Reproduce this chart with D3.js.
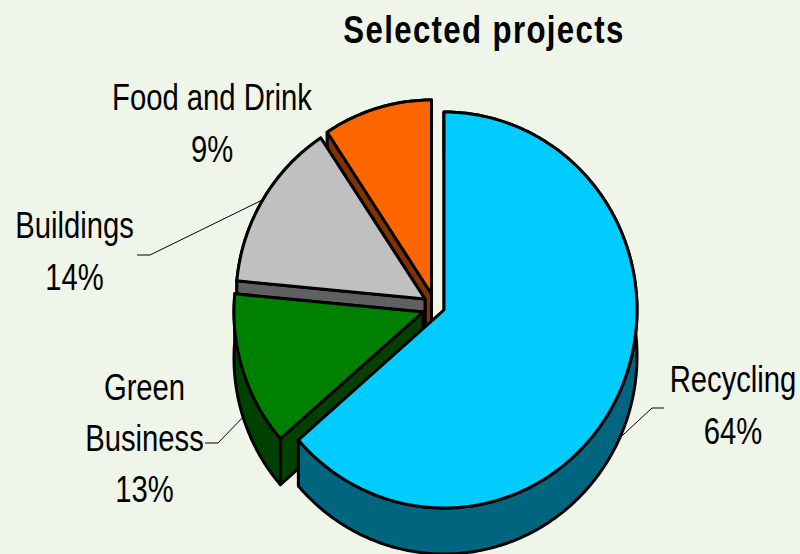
<!DOCTYPE html>
<html>
<head>
<meta charset="utf-8">
<script src="https://cdn.jsdelivr.net/npm/d3@7"></script>
<style>
  html, body { margin: 0; padding: 0; background: #f0f5ea; }
  svg { display: block; }
  text { font-family: "Liberation Sans", Arial, sans-serif; fill: #000; }
</style>
</head>
<body>
<script>
const categories = ["Recycling", "Green Business", "Buildings", "Food and Drink"];
// the printed labels round these
const shares = [63.6, 12.9, 14.2, 9.3];
const topColors = ["#00ccff", "#008000", "#c0c0c0", "#ff6600"];
const wallColors = ["#006680", "#004000", "#606060", "#803300"];

const width = 800;
const height = 554;
const depth = 46;

// every slice is pulled out of the pie a bit, so each gets its own centre
const centers = [[444, 310], [423, 312], [425, 299], [431.5, 294]];
// the blue one is drawn a little larger than the rest
const radii = [[193, 198], [189, 193], [189, 193], [189, 194]];

// label lines, x is the middle of the block, squeezed text like the original
const labelLines = [
  { slice: 0, lines: ["Recycling", "64%"], x: 733, y: 392, dy: 52 },
  { slice: 1, lines: ["Green", "Business", "13%"], x: 144.5, y: 400, dy: 51 },
  { slice: 2, lines: ["Buildings", "14%"], x: 74.5, y: 238, dy: 52 },
  { slice: 3, lines: ["Food and Drink", "9%"], x: 212, y: 110, dy: 52 }
];
// elbow of the leader lines, they start on the slice itself
const leaders = [
  { slice: 0, elbow: [652, 408], end: [664, 408], wall: true },
  { slice: 1, elbow: [218, 443], end: [205, 443], wall: true },
  { slice: 2, elbow: [150, 255], end: [137, 255], wall: false }
];

// unit circle to pixels for each slice
const xScales = radii.map(r => d3.scaleLinear().domain([-1, 1]).range([-r[0], r[0]]));
const yScales = radii.map(r => d3.scaleLinear().domain([-1, 1]).range([-r[1], r[1]]));

const svg = d3.select("body")
  .append("svg")
  .attr("width", width)
  .attr("height", height);

const slices = d3.pie().sort(null)(shares);

// point on the rim of a slice, angle clockwise from 12 o'clock
const rim = (i, angle, drop) => [
  centers[i][0] + xScales[i](Math.sin(angle)),
  centers[i][1] + yScales[i](-Math.cos(angle)) + (drop || 0)
];

const arcPoints = (i, a0, a1, drop) => {
  const n = Math.max(2, Math.ceil((a1 - a0) * 60));
  return d3.range(n + 1).map(k => rim(i, a0 + (a1 - a0) * k / n, drop));
};

const line = d3.line();

// back slices first, the blue one goes on top of everything
[3, 2, 1, 0].forEach(i => {
  const s = slices[i];
  const c = centers[i];
  const g = svg.append("g")
    .attr("stroke", "#000")
    .attr("stroke-width", 3)
    .attr("stroke-linejoin", "round");

  const drawWall = a => {
    const p = rim(i, a);
    const q = rim(i, a, depth);
    g.append("path")
      .attr("d", line([c, p, q, [c[0], c[1] + depth]]) + "Z")
      .attr("fill", wallColors[i]);
  };

  // end wall is the hidden one, it goes first
  drawWall(s.endAngle);

  // rim wall
  const top = arcPoints(i, s.startAngle, s.endAngle);
  const bottom = arcPoints(i, s.startAngle, s.endAngle, depth).reverse();
  g.append("path")
    .attr("d", line(top.concat(bottom)) + "Z")
    .attr("fill", wallColors[i]);

  // start wall covers the lower rim edge where the two overlap
  drawWall(s.startAngle);

  // top face
  g.append("path")
    .attr("d", line([c].concat(top)) + "Z")
    .attr("fill", topColors[i]);
});

// leader lines start at the middle of the slice rim
leaders.forEach(d => {
  const s = slices[d.slice];
  const start = rim(d.slice, (s.startAngle + s.endAngle) / 2, d.wall ? depth : 0);
  svg.append("path")
    .attr("d", line([start, d.elbow, d.end]))
    .attr("fill", "none")
    .attr("stroke", "#000")
    .attr("stroke-width", 1);
});

labelLines.forEach(d => {
  d.lines.forEach((t, k) => {
    svg.append("text")
      .attr("transform", "translate(" + d.x + "," + (d.y + k * d.dy) + ") scale(0.79,1)")
      .attr("text-anchor", "middle")
      .attr("font-size", 37)
      .text(t);
  });
});

svg.append("text")
  .attr("transform", "translate(484,43) scale(0.8,1)")
  .attr("text-anchor", "middle")
  .attr("font-size", 39)
  .attr("font-weight", "bold")
  .attr("letter-spacing", 1.7)
  .text("Selected projects");
</script>
</body>
</html>
